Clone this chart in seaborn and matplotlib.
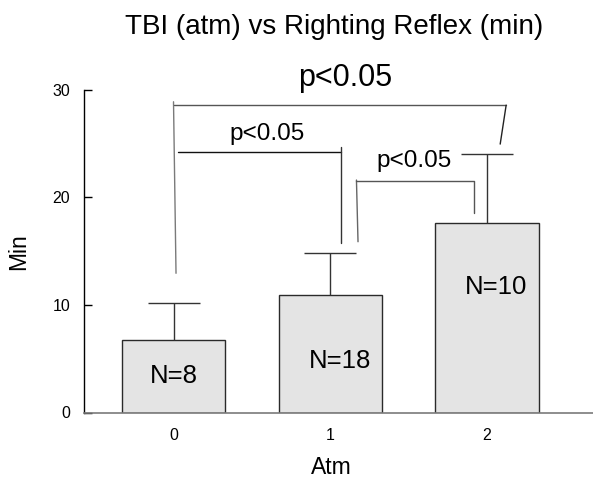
import matplotlib
matplotlib.use("Agg")
import matplotlib.pyplot as plt
import numpy as np
import pandas as pd
import seaborn as sns

# Data
atm = ["0", "1", "2"]
mean_min = [6.7, 10.9, 17.6]
err_min = [3.5, 3.9, 6.4]
n_labels = ["N=8", "N=18", "N=10"]
n_label_y = [3.4, 4.8, 11.7]

# significance brackets: polylines in data units (x = group position, y = min)
brackets = [
    ([0.0, 0.016], [28.86, 12.93], "#7a7a7a"),
    ([0.003, 2.122], [28.55, 28.55], "#555555"),
    ([2.122, 2.084], [28.55, 24.93], "#222222"),
    ([0.027, 1.071], [24.19, 24.19], "#111111"),
    ([1.071, 1.071], [24.62, 15.71], "#333333"),
    ([1.167, 1.177], [21.59, 15.86], "#666666"),
    ([1.167, 1.914, 1.914], [21.52, 21.52, 18.55], "#555555"),
]
p_labels = [("p<0.05", 1.097, 30.32, 22), ("p<0.05", 0.594, 25.30, 17.5),
            ("p<0.05", 1.536, 22.77, 17.5)]

df = pd.DataFrame({"Atm": atm, "Min": mean_min})

sns.set_style("white")
plt.rcParams["font.family"] = ["Liberation Sans", "DejaVu Sans"]
plt.rcParams["text.color"] = "black"
plt.rcParams["axes.labelcolor"] = "black"
plt.rcParams["xtick.color"] = "black"
plt.rcParams["ytick.color"] = "black"

fig = plt.figure(figsize=(5.93, 4.83), dpi=100)
ax = fig.add_axes([84 / 593, 70.5 / 483, 509 / 593, 323 / 483])

sns.barplot(data=df, x="Atm", y="Min", ax=ax, color="#e4e4e4", saturation=1,
            width=0.66, edgecolor="#2a2a2a", linewidth=1, errorbar=None)
eb = ax.errorbar(range(len(atm)), mean_min, yerr=[np.zeros(len(atm)), err_min],
                 fmt="none", ecolor="#333333", elinewidth=1, capsize=19, capthick=1)
eb[1][0].set_visible(False)  # no cap at the bar top

for xs, ys, c in brackets:
    ax.plot(xs, ys, color=c, lw=1, clip_on=False)
for txt, x, y, fs in p_labels:
    ax.text(x, y, txt, ha="center", va="baseline", fontsize=fs, clip_on=False)
for i, (lab, y) in enumerate(zip(n_labels, n_label_y)):
    ax.text(i + (0.06 if i else 0), y, lab, ha="center", va="center", fontsize=18.5)

ax.set_xlim(-0.571, 2.676)
ax.set_ylim(0, 30)
ax.set_yticks([0, 10, 20, 30])
sns.despine(ax=ax, top=True, right=True)
ax.spines["left"].set_color("black")
ax.spines["left"].set_linewidth(1)
ax.spines["bottom"].set_color("#7a7a7a")
ax.spines["bottom"].set_linewidth(1.2)
ax.tick_params(axis="y", direction="in", length=6, width=1, color="black",
               labelsize=11.5, pad=10, left=True)
ax.tick_params(axis="x", length=0, labelsize=11.5, pad=11)

ax.set_xlabel("Atm", fontsize=16.5)
ax.xaxis.set_label_coords(0.485, -0.135)
ax.xaxis.label.set_va("top")
ax.set_ylabel("Min", fontsize=16.5)
ax.yaxis.set_label_coords(-0.128, 0.497)
ax.yaxis.label.set_va("center")

fig.text(334.5 / 593, 1 - 34 / 483, "TBI (atm) vs Righting Reflex (min)",
         ha="center", va="baseline", fontsize=20)

fig.savefig("out.png", dpi=100)
